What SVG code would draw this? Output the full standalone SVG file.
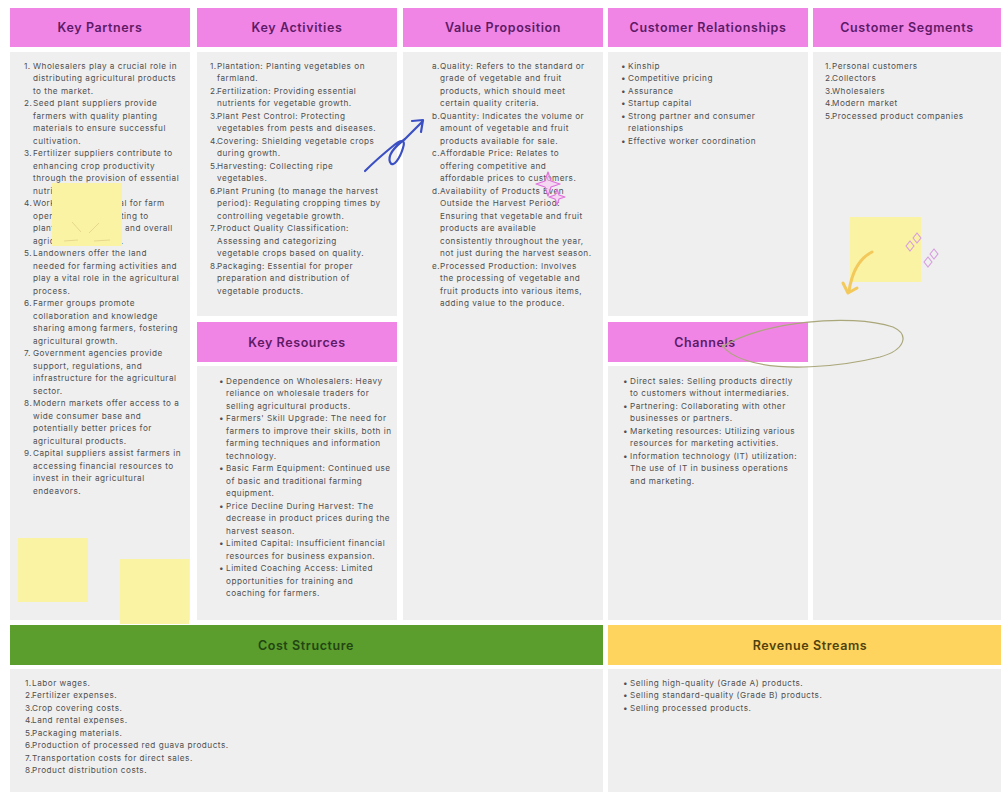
<svg xmlns="http://www.w3.org/2000/svg" width="1001" height="792" viewBox="0 0 1001 792">
<style>
.hd{fill:#f085e6}
.bd{fill:#efefef}
.h{font-family:Inter,"Liberation Sans",sans-serif;font-size:12.5px;font-weight:600;fill:#5e1a66;text-anchor:middle;letter-spacing:0.6px}
.t{font-family:Inter,"Liberation Sans",sans-serif;font-size:8.2px;letter-spacing:0.5px;fill:#4f4f4f}
.sticky{fill:#fbf3a4}
</style>
<rect width="1001" height="792" fill="#ffffff"/>

<g id="key-partners">
<rect class="hd" x="10" y="8" width="180" height="39"/>
<text class="h" x="100" y="32">Key Partners</text>
<rect class="bd" x="10" y="52" width="180" height="568"/>
<text class="t" y="68.8"><tspan x="24">1.</tspan><tspan x="33">Wholesalers play a crucial role in</tspan><tspan x="33" dy="12.5">distributing agricultural products</tspan><tspan x="33" dy="12.5">to the market.</tspan></text>
<text class="t" y="106.3"><tspan x="24">2.</tspan><tspan x="33">Seed plant suppliers provide</tspan><tspan x="33" dy="12.5">farmers with quality planting</tspan><tspan x="33" dy="12.5">materials to ensure successful</tspan><tspan x="33" dy="12.5">cultivation.</tspan></text>
<text class="t" y="156.3"><tspan x="24">3.</tspan><tspan x="33">Fertilizer suppliers contribute to</tspan><tspan x="33" dy="12.5">enhancing crop productivity</tspan><tspan x="33" dy="12.5">through the provision of essential</tspan><tspan x="33" dy="12.5">nutrients.</tspan></text>
<text class="t" y="206.3"><tspan x="24">4.</tspan><tspan x="33">Workers are essential for farm</tspan><tspan x="33" dy="12.5">operations, contributing to</tspan><tspan x="33" dy="12.5">planting, harvesting, and overall</tspan><tspan x="33" dy="12.5">agricultural success.</tspan></text>
<text class="t" y="256.3"><tspan x="24">5.</tspan><tspan x="33">Landowners offer the land</tspan><tspan x="33" dy="12.5">needed for farming activities and</tspan><tspan x="33" dy="12.5">play a vital role in the agricultural</tspan><tspan x="33" dy="12.5">process.</tspan></text>
<text class="t" y="306.3"><tspan x="24">6.</tspan><tspan x="33">Farmer groups promote</tspan><tspan x="33" dy="12.5">collaboration and knowledge</tspan><tspan x="33" dy="12.5">sharing among farmers, fostering</tspan><tspan x="33" dy="12.5">agricultural growth.</tspan></text>
<text class="t" y="356.3"><tspan x="24">7.</tspan><tspan x="33">Government agencies provide</tspan><tspan x="33" dy="12.5">support, regulations, and</tspan><tspan x="33" dy="12.5">infrastructure for the agricultural</tspan><tspan x="33" dy="12.5">sector.</tspan></text>
<text class="t" y="406.3"><tspan x="24">8.</tspan><tspan x="33">Modern markets offer access to a</tspan><tspan x="33" dy="12.5">wide consumer base and</tspan><tspan x="33" dy="12.5">potentially better prices for</tspan><tspan x="33" dy="12.5">agricultural products.</tspan></text>
<text class="t" y="456.3"><tspan x="24">9.</tspan><tspan x="33">Capital suppliers assist farmers in</tspan><tspan x="33" dy="12.5">accessing financial resources to</tspan><tspan x="33" dy="12.5">invest in their agricultural</tspan><tspan x="33" dy="12.5">endeavors.</tspan></text>
</g>

<g id="key-activities">
<rect class="hd" x="197" y="8" width="200" height="39"/>
<text class="h" x="297" y="32">Key Activities</text>
<rect class="bd" x="197" y="52" width="200" height="264"/>
<text class="t" y="68.8"><tspan x="210">1.</tspan><tspan x="217">Plantation: Planting vegetables on</tspan><tspan x="217" dy="12.5">farmland.</tspan></text>
<text class="t" y="93.8"><tspan x="210">2.</tspan><tspan x="217">Fertilization: Providing essential</tspan><tspan x="217" dy="12.5">nutrients for vegetable growth.</tspan></text>
<text class="t" y="118.8"><tspan x="210">3.</tspan><tspan x="217">Plant Pest Control: Protecting</tspan><tspan x="217" dy="12.5">vegetables from pests and diseases.</tspan></text>
<text class="t" y="143.8"><tspan x="210">4.</tspan><tspan x="217">Covering: Shielding vegetable crops</tspan><tspan x="217" dy="12.5">during growth.</tspan></text>
<text class="t" y="168.8"><tspan x="210">5.</tspan><tspan x="217">Harvesting: Collecting ripe</tspan><tspan x="217" dy="12.5">vegetables.</tspan></text>
<text class="t" y="193.8"><tspan x="210">6.</tspan><tspan x="217">Plant Pruning (to manage the harvest</tspan><tspan x="217" dy="12.5">period): Regulating cropping times by</tspan><tspan x="217" dy="12.5">controlling vegetable growth.</tspan></text>
<text class="t" y="231.3"><tspan x="210">7.</tspan><tspan x="217">Product Quality Classification:</tspan><tspan x="217" dy="12.5">Assessing and categorizing</tspan><tspan x="217" dy="12.5">vegetable crops based on quality.</tspan></text>
<text class="t" y="268.8"><tspan x="210">8.</tspan><tspan x="217">Packaging: Essential for proper</tspan><tspan x="217" dy="12.5">preparation and distribution of</tspan><tspan x="217" dy="12.5">vegetable products.</tspan></text>
</g>

<g id="key-resources">
<rect class="hd" x="197" y="322" width="200" height="40"/>
<text class="h" x="297" y="346.5">Key Resources</text>
<rect class="bd" x="197" y="366" width="200" height="254"/>
<text class="t" y="383.8"><tspan x="219">•</tspan><tspan x="226">Dependence on Wholesalers: Heavy</tspan><tspan x="226" dy="12.5">reliance on wholesale traders for</tspan><tspan x="226" dy="12.5">selling agricultural products.</tspan></text>
<text class="t" y="421.3"><tspan x="219">•</tspan><tspan x="226">Farmers' Skill Upgrade: The need for</tspan><tspan x="226" dy="12.5">farmers to improve their skills, both in</tspan><tspan x="226" dy="12.5">farming techniques and information</tspan><tspan x="226" dy="12.5">technology.</tspan></text>
<text class="t" y="471.3"><tspan x="219">•</tspan><tspan x="226">Basic Farm Equipment: Continued use</tspan><tspan x="226" dy="12.5">of basic and traditional farming</tspan><tspan x="226" dy="12.5">equipment.</tspan></text>
<text class="t" y="508.8"><tspan x="219">•</tspan><tspan x="226">Price Decline During Harvest: The</tspan><tspan x="226" dy="12.5">decrease in product prices during the</tspan><tspan x="226" dy="12.5">harvest season.</tspan></text>
<text class="t" y="546.3"><tspan x="219">•</tspan><tspan x="226">Limited Capital: Insufficient financial</tspan><tspan x="226" dy="12.5">resources for business expansion.</tspan></text>
<text class="t" y="571.3"><tspan x="219">•</tspan><tspan x="226">Limited Coaching Access: Limited</tspan><tspan x="226" dy="12.5">opportunities for training and</tspan><tspan x="226" dy="12.5">coaching for farmers.</tspan></text>
</g>

<g id="value-proposition">
<rect class="hd" x="403" y="8" width="200" height="39"/>
<text class="h" x="503" y="32">Value Proposition</text>
<rect class="bd" x="403" y="52" width="200" height="568"/>
<text class="t" y="68.8"><tspan x="432">a.</tspan><tspan x="440">Quality: Refers to the standard or</tspan><tspan x="440" dy="12.5">grade of vegetable and fruit</tspan><tspan x="440" dy="12.5">products, which should meet</tspan><tspan x="440" dy="12.5">certain quality criteria.</tspan></text>
<text class="t" y="118.8"><tspan x="432">b.</tspan><tspan x="440">Quantity: Indicates the volume or</tspan><tspan x="440" dy="12.5">amount of vegetable and fruit</tspan><tspan x="440" dy="12.5">products available for sale.</tspan></text>
<text class="t" y="156.3"><tspan x="432">c.</tspan><tspan x="440">Affordable Price: Relates to</tspan><tspan x="440" dy="12.5">offering competitive and</tspan><tspan x="440" dy="12.5">affordable prices to customers.</tspan></text>
<text class="t" y="193.8"><tspan x="432">d.</tspan><tspan x="440">Availability of Products Even</tspan><tspan x="440" dy="12.5">Outside the Harvest Period:</tspan><tspan x="440" dy="12.5">Ensuring that vegetable and fruit</tspan><tspan x="440" dy="12.5">products are available</tspan><tspan x="440" dy="12.5">consistently throughout the year,</tspan><tspan x="440" dy="12.5">not just during the harvest season.</tspan></text>
<text class="t" y="268.8"><tspan x="432">e.</tspan><tspan x="440">Processed Production: Involves</tspan><tspan x="440" dy="12.5">the processing of vegetable and</tspan><tspan x="440" dy="12.5">fruit products into various items,</tspan><tspan x="440" dy="12.5">adding value to the produce.</tspan></text>
</g>

<g id="customer-relationships">
<rect class="hd" x="608" y="8" width="200" height="39"/>
<text class="h" x="708" y="32">Customer Relationships</text>
<rect class="bd" x="608" y="52" width="200" height="264"/>
<text class="t" y="68.8"><tspan x="621">•</tspan><tspan x="628">Kinship</tspan></text>
<text class="t" y="81.3"><tspan x="621">•</tspan><tspan x="628">Competitive pricing</tspan></text>
<text class="t" y="93.8"><tspan x="621">•</tspan><tspan x="628">Assurance</tspan></text>
<text class="t" y="106.3"><tspan x="621">•</tspan><tspan x="628">Startup capital</tspan></text>
<text class="t" y="118.8"><tspan x="621">•</tspan><tspan x="628">Strong partner and consumer</tspan><tspan x="628" dy="12.5">relationships</tspan></text>
<text class="t" y="143.8"><tspan x="621">•</tspan><tspan x="628">Effective worker coordination</tspan></text>
</g>

<g id="channels">
<rect class="hd" x="608" y="322" width="200" height="40"/>
<text class="h" x="705" y="346.5">Channels</text>
<rect class="bd" x="608" y="366" width="200" height="254"/>
<text class="t" y="383.8"><tspan x="623">•</tspan><tspan x="630">Direct sales: Selling products directly</tspan><tspan x="630" dy="12.5">to customers without intermediaries.</tspan></text>
<text class="t" y="408.8"><tspan x="623">•</tspan><tspan x="630">Partnering: Collaborating with other</tspan><tspan x="630" dy="12.5">businesses or partners.</tspan></text>
<text class="t" y="433.8"><tspan x="623">•</tspan><tspan x="630">Marketing resources: Utilizing various</tspan><tspan x="630" dy="12.5">resources for marketing activities.</tspan></text>
<text class="t" y="458.8"><tspan x="623">•</tspan><tspan x="630">Information technology (IT) utilization:</tspan><tspan x="630" dy="12.5">The use of IT in business operations</tspan><tspan x="630" dy="12.5">and marketing.</tspan></text>
</g>

<g id="customer-segments">
<rect class="hd" x="813" y="8" width="188" height="39"/>
<text class="h" x="907" y="32">Customer Segments</text>
<rect class="bd" x="813" y="52" width="188" height="568"/>
<text class="t" y="68.8"><tspan x="825">1.</tspan><tspan x="832">Personal customers</tspan></text>
<text class="t" y="81.3"><tspan x="825">2.</tspan><tspan x="832">Collectors</tspan></text>
<text class="t" y="93.8"><tspan x="825">3.</tspan><tspan x="832">Wholesalers</tspan></text>
<text class="t" y="106.3"><tspan x="825">4.</tspan><tspan x="832">Modern market</tspan></text>
<text class="t" y="118.8"><tspan x="825">5.</tspan><tspan x="832">Processed product companies</tspan></text>
</g>

<g id="stickies">
<rect class="sticky" x="52" y="183" width="70" height="63"/>
<path d="M72,222 L81,232 M99,223 L89,233 M64,241 L78,240 M94,241 L110,240" stroke="#e6d88e" stroke-width="1" fill="none"/>
<rect class="sticky" x="18" y="538" width="70" height="64"/>
<rect class="sticky" x="120" y="559" width="69" height="65"/>
<rect class="sticky" x="850" y="217" width="71" height="65"/>
</g>

<g id="cost-structure">
<rect x="10" y="625" width="593" height="40" fill="#5b9e2d"/>
<text class="h" x="306" y="650" style="fill:#234512">Cost Structure</text>
<rect class="bd" x="10" y="669" width="593" height="123"/>
<text class="t" y="685.8"><tspan x="25">1.</tspan><tspan x="32">Labor wages.</tspan><tspan x="25" dy="12.5">2.</tspan><tspan x="32">Fertilizer expenses.</tspan><tspan x="25" dy="12.5">3.</tspan><tspan x="32">Crop covering costs.</tspan><tspan x="25" dy="12.5">4.</tspan><tspan x="32">Land rental expenses.</tspan><tspan x="25" dy="12.5">5.</tspan><tspan x="32">Packaging materials.</tspan><tspan x="25" dy="12.5">6.</tspan><tspan x="32">Production of processed red guava products.</tspan><tspan x="25" dy="12.5">7.</tspan><tspan x="32">Transportation costs for direct sales.</tspan><tspan x="25" dy="12.5">8.</tspan><tspan x="32">Product distribution costs.</tspan></text>
</g>

<g id="revenue-streams">
<rect x="608" y="625" width="393" height="40" fill="#ffd45e"/>
<text class="h" x="810" y="650" style="fill:#4f420c">Revenue Streams</text>
<rect class="bd" x="608" y="669" width="393" height="123"/>
<text class="t" y="685.8"><tspan x="623">•</tspan><tspan x="630">Selling high-quality (Grade A) products.</tspan><tspan x="623" dy="12.5">•</tspan><tspan x="630">Selling standard-quality (Grade B) products.</tspan><tspan x="623" dy="12.5">•</tspan><tspan x="630">Selling processed products.</tspan></text>
</g>

<g id="connectors" fill="none" stroke-linecap="round" stroke-linejoin="round">
<path d="M365,171 C373,163 382,155 393,146 C401,139 406,139 403,148 C400,158 393,169 390,162 C387,154 397,145 405,139 L423,121 M412,121 L423,120 L421,132" stroke="#3b4fc4" stroke-width="2.2"/>
<path d="M548,172 L551,181 L560,184 L551,187 L548,196 L545,187 L536,184 L545,181 Z" stroke="#e070dc" stroke-width="1.2" fill="#f6c6f1" fill-opacity="0.6"/>
<path d="M557,189 L559,195 L565,197 L559,199 L557,205 L555,199 L549,197 L555,195 Z" stroke="#e070dc" stroke-width="1.1" fill="#f6c6f1" fill-opacity="0.6"/>
<path d="M722,347 C760,322 850,313 893,327 C910,335 905,350 880,357 C840,367 780,372 745,360 C733,356 726,351 722,345" stroke="#aaa77a" stroke-width="1.2"/>
<path d="M872,252 C860,258 852,272 849,291" stroke="#f2c95a" stroke-width="3"/>
<path d="M843,283 L848,293 L857,288" stroke="#f2c95a" stroke-width="3"/>
<path d="M906,246 l4,-5 l4,5 l-4,5 z M913,238 l4,-5 l4,5 l-4,5 z M924,262 l4,-5 l4,5 l-4,5 z M930,254 l4,-5 l4,5 l-4,5 z" stroke="#d69ee0" stroke-width="1.2"/>
</g>
</svg>
